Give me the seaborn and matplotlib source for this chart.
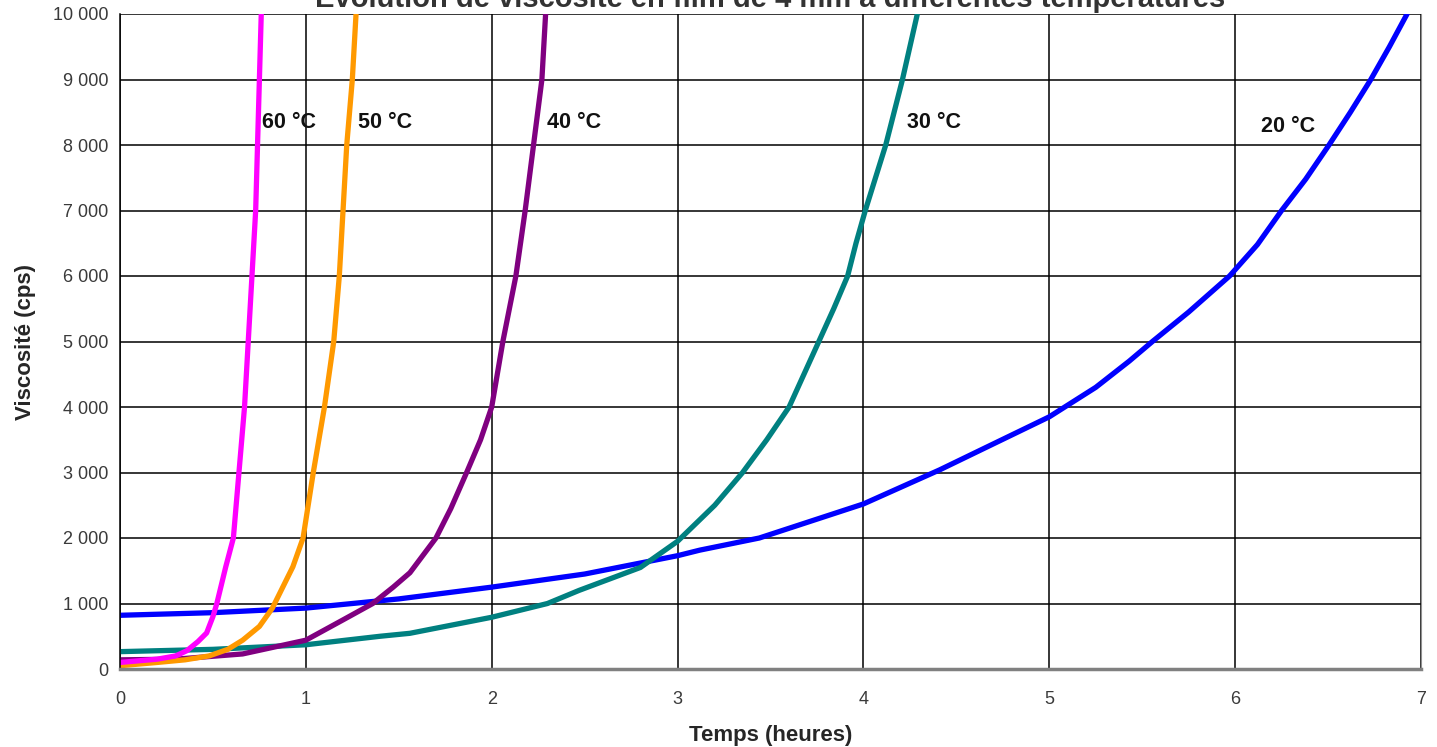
import matplotlib
matplotlib.use('Agg')
import matplotlib.pyplot as plt
import matplotlib.ticker as mticker
import numpy as np
import pandas as pd
import seaborn as sns

# Valeurs (temps en heures, viscosité en cps)
t_60 = [0.0, 0.2, 0.3, 0.36, 0.42, 0.466, 0.50, 0.521, 0.569, 0.61, 0.64, 0.67, 0.69, 0.71, 0.73, 0.74, 0.75, 0.76]
v_60 = [100, 150, 200, 280, 420, 550, 800, 1000, 1560, 2000, 3000, 4000, 5000, 6000, 7000, 8000, 9000, 10000]

t_50 = [0.0, 0.2, 0.35, 0.48, 0.58, 0.66, 0.75, 0.82, 0.93, 0.985, 1.04, 1.10, 1.15, 1.18, 1.20, 1.22, 1.25, 1.27]
v_50 = [50, 100, 140, 200, 300, 440, 650, 930, 1560, 2000, 3000, 4000, 5000, 6000, 7000, 8000, 9000, 10000]

t_40 = [0.0, 0.3, 0.66, 1.0, 1.2, 1.36, 1.47, 1.56, 1.70, 1.78, 1.865, 1.94, 2.0, 2.06, 2.13, 2.18, 2.225, 2.27, 2.29]
v_40 = [140, 150, 230, 440, 750, 1000, 1250, 1470, 2000, 2450, 3000, 3500, 4000, 5000, 6000, 7000, 8000, 9000, 10000]

t_30 = [0.0, 0.5, 1.0, 1.4, 1.56, 2.0, 2.3, 2.47, 2.8, 3.0, 3.12, 3.2, 3.35, 3.48, 3.6, 3.68, 3.76,
        3.84, 3.915, 3.96, 4.01, 4.065, 4.12, 4.165, 4.21, 4.25, 4.29]
v_30 = [265, 300, 370, 500, 545, 790, 1000, 1200, 1550, 1950, 2280, 2500, 3000, 3500, 4000, 4500, 5000,
        5500, 6000, 6500, 7000, 7500, 8000, 8500, 9000, 9500, 10000]

t_20 = [0.0, 0.5, 1.0, 1.5, 2.0, 2.5, 3.0, 3.12, 3.44, 4.0, 4.41, 5.0, 5.25, 5.43, 5.555, 5.75, 5.97,
        6.12, 6.25, 6.38, 6.505, 6.62, 6.73, 6.83, 6.925]
v_20 = [820, 860, 930, 1070, 1250, 1450, 1730, 1815, 2000, 2520, 3040, 3850, 4300, 4700, 5000, 5450, 6000,
        6480, 7000, 7480, 8000, 8500, 9000, 9500, 10000]

etiquettes = ['60 °C', '50 °C', '40 °C', '30 °C', '20 °C']
couleurs = ['#FF00FF', '#FF9900', '#800080', '#008080', '#0000FF']
# position des étiquettes (heures, cps)
pos_etiquettes = [(0.765, 8350), (1.28, 8350), (2.295, 8350), (4.236, 8350), (6.14, 8280)]

series = [(t_60, v_60), (t_50, v_50), (t_40, v_40), (t_30, v_30), (t_20, v_20)]
df = pd.concat([pd.DataFrame({'Temps': t, 'Viscosite': v, 'Temp': lab})
                for (t, v), lab in zip(series, etiquettes)], ignore_index=True)

sns.set_style('white')
plt.rcParams['font.family'] = ['Liberation Sans', 'DejaVu Sans']

fig = plt.figure(figsize=(14.37, 7.47), dpi=100)
ax = fig.add_axes([120 / 1437, 1 - 669 / 747, 1301 / 1437, 655 / 747])

sns.lineplot(data=df, x='Temps', y='Viscosite', hue='Temp', hue_order=etiquettes[::-1],
             palette=dict(zip(etiquettes, couleurs)), estimator=None, sort=False,
             linewidth=3.8, legend=False, ax=ax)

ax.set_xlim(0, 7)
ax.set_ylim(0, 10000)
ax.set_xticks(range(0, 8))
ax.set_yticks(range(0, 10001, 1000))
ax.yaxis.set_major_formatter(mticker.FuncFormatter(lambda v, p: f'{int(v):,}'.replace(',', ' ')))
ax.grid(True, color='black', linewidth=1.1)
ax.set_axisbelow(True)
ax.spines['top'].set_visible(False)
ax.spines['right'].set_color('#909090')
ax.spines['left'].set_color('black')
ax.spines['left'].set_linewidth(1.1)
ax.spines['bottom'].set_color('#808080')
ax.spines['bottom'].set_linewidth(2.5)
ax.tick_params(axis='both', direction='out', length=5, color='black', labelsize=13, labelcolor='#3a3a3a')
ax.tick_params(axis='x', pad=11)

ax.set_xlabel('Temps (heures)', fontsize=16, fontweight='bold', labelpad=12)
ax.set_ylabel('Viscosité (cps)', fontsize=16, fontweight='bold', labelpad=12)

for lab, (x, y) in zip(etiquettes, pos_etiquettes):
    ax.text(x, y, lab, fontsize=15.5, fontweight='bold', ha='left', va='center', color='#111111')

fig.text(0.536, 1 - 7 / 747, 'Evolution de viscosité en film de 4 mm à différentes températures',
         fontsize=21, fontweight='bold', ha='center', va='baseline', color='#333333')

fig.savefig('out.png', dpi=100)
